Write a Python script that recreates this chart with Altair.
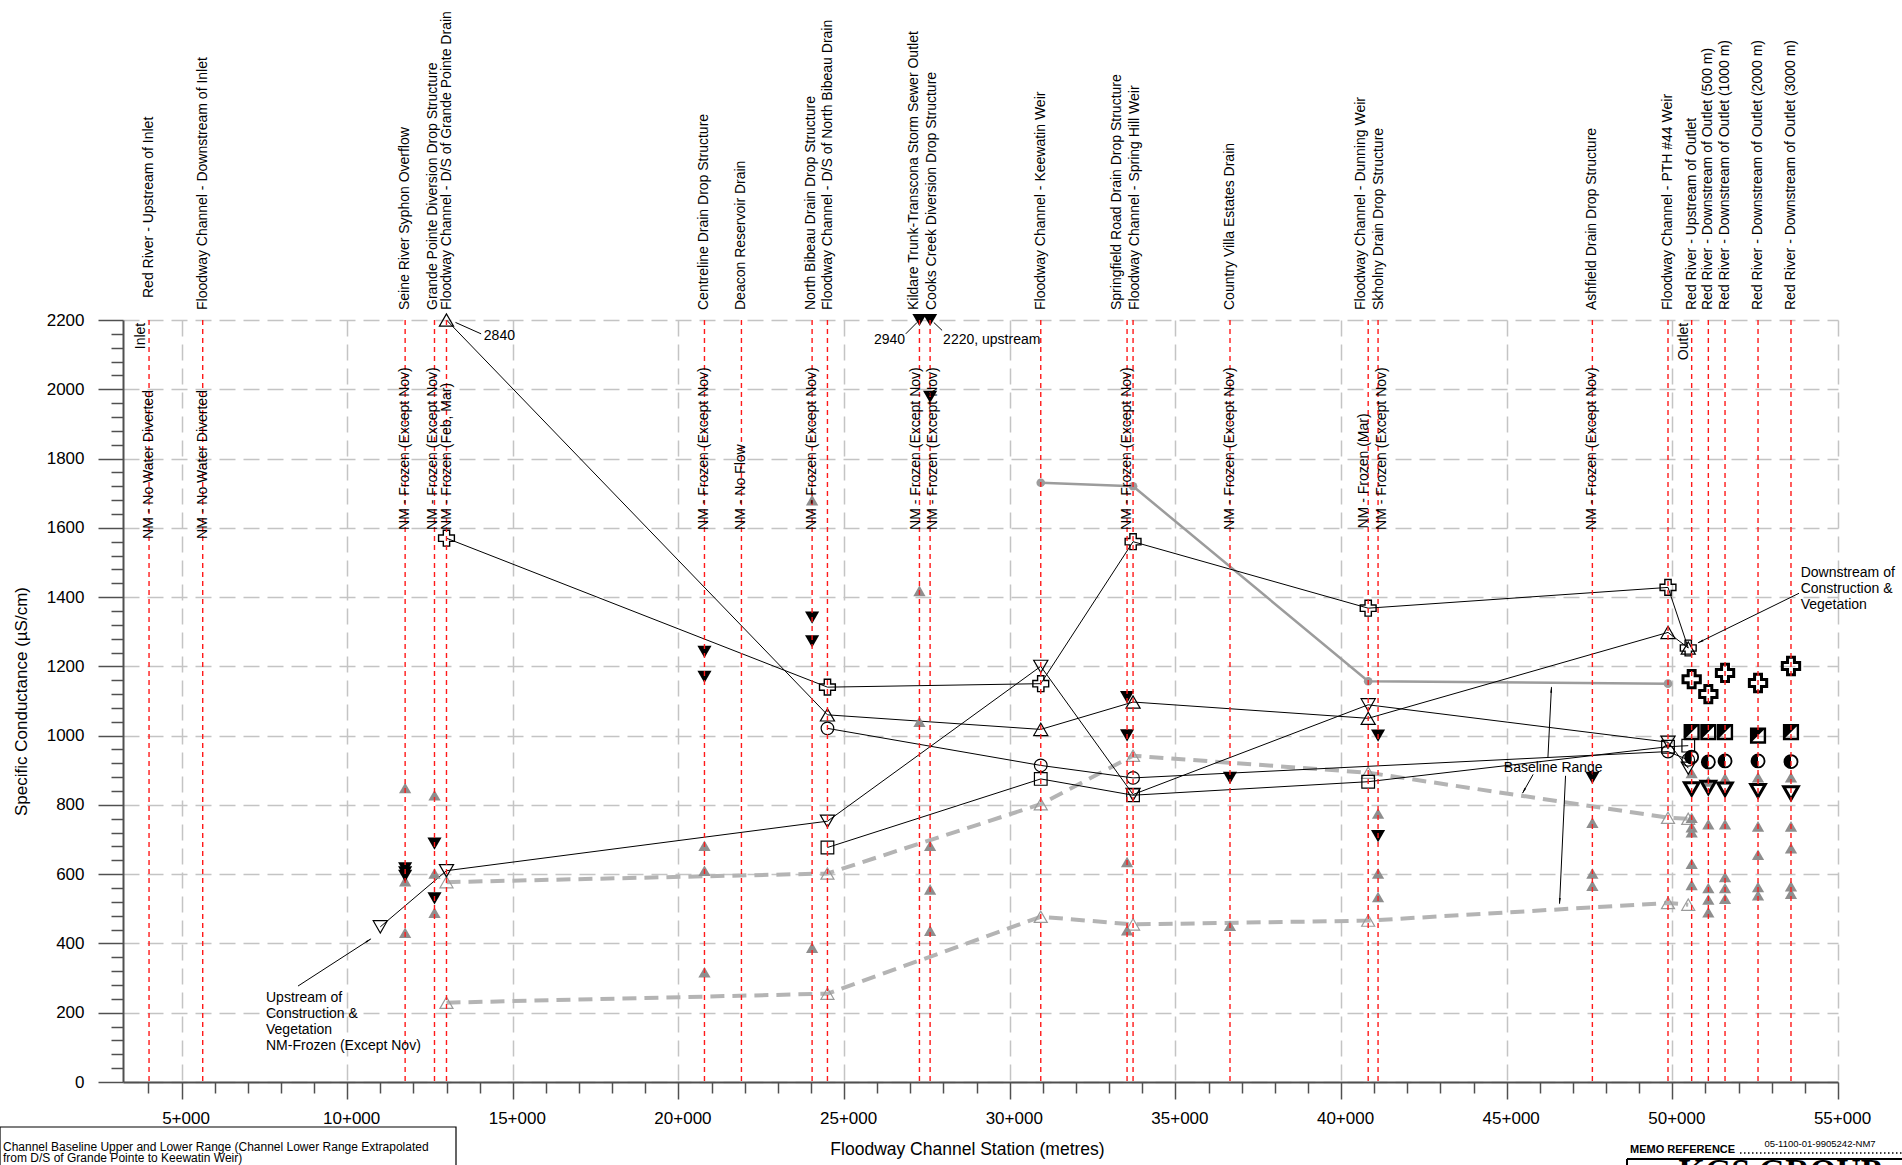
import math
import altair as alt
import pandas as pd

# ---------------------------------------------------------------- frame
W, H = 1715, 762
PAD = {"left": 123, "top": 320, "right": 64, "bottom": 83}
X_DOMAIN = [3234, 55000]
Y_DOMAIN = [0, 2200]
PX_PER_M = W / (X_DOMAIN[1] - X_DOMAIN[0])
PX_PER_US = H / (Y_DOMAIN[1] - Y_DOMAIN[0])
FONT = "Liberation Sans, Arial, Helvetica, sans-serif"
SERIF = "Liberation Serif, Times New Roman, serif"

# ---------------------------------------------------------------- stations
station_chainage = [4020, 5640, 11750, 12636, 12998, 20785, 21901, 24034, 24497,
                    27274, 27596, 30936, 33541, 33722, 36648, 40819, 41117, 47586,
                    49869, 50583, 51086, 51590, 52586, 53581]
station_names = [
    "Red River - Upstream of Inlet",
    "Floodway Channel -  Downstream of Inlet",
    "Seine River Syphon Overflow",
    "Grande Pointe Diversion Drop Structure",
    "Floodway Channel - D/S of Grande Pointe Drain",
    "Centreline Drain Drop Structure",
    "Deacon Reservoir Drain",
    "North Bibeau Drain Drop Structure",
    "Floodway Channel - D/S of North Bibeau Drain",
    "Kildare Trunk-Transcona Storm Sewer Outlet",
    "Cooks Creek Diversion Drop Structure",
    "Floodway Channel - Keewatin Weir",
    "Springfield Road Drain Drop Structure",
    "Floodway Channel - Spring Hill Weir",
    "Country Villa Estates Drain",
    "Floodway Channel - Dunning Weir",
    "Skholny Drain Drop Structure",
    "Ashfield Drain Drop Structure",
    "Floodway Channel - PTH  #44 Weir",
    "Red River - Upstream of Outlet",
    "Red River - Downstream of Outlet (500 m)",
    "Red River - Downstream of Outlet (1000 m)",
    "Red River - Downstream of Outlet (2000 m)",
    "Red River - Downstream of Outlet (3000 m)",
]
# sideways nudge (px) so that neighbouring names do not collide
station_label_shift = [0, 0, 0, -1, 1, 0, 0, -1, 1, -5, 2, 0, -10, 2, 0, -7, 1, 0,
                       0, 0, 0, 0, 0, 0]
# gap (px) between the plot top and the start of each name
station_label_gap = [22, 10, 10, 10, 10, 10, 10, 10, 10, 10, 10, 10, 10, 10, 10, 10,
                     10, 10, 10, 10, 10, 10, 10, 10]

# "not measured" notes written along the station lines
nm_chainage = [4020, 5640, 11750, 12636, 12998, 20785, 21901, 24034, 27274, 27596,
               33541, 36648, 40819, 41117, 47586]
nm_text = ["NM - No Water Diverted", "NM - No Water Diverted",
           "NM - Frozen (Except Nov)", "NM - Frozen (Except Nov)",
           "NM - Frozen (Feb, Mar)", "NM - Frozen (Except Nov)", "NM - No Flow",
           "NM - Frozen (Except Nov)", "NM - Frozen (Except Nov)",
           "NM - Frozen (Except Nov)", "NM - Frozen (Except Nov)",
           "NM - Frozen (Except Nov)", "NM - Frozen (Mar)",
           "NM - Frozen (Except Nov)", "NM - Frozen (Except Nov)"]
nm_start = [1568, 1568, 1594, 1594, 1594, 1594, 1594, 1594, 1594, 1594,
            1594, 1594, 1598, 1594, 1594]
nm_shift = [0, 0, 0, -1, 1, 0, 0, 0, -3, 3, 0, 0, -4, 4, 0]

# ---------------------------------------------------------------- channel series (µS/cm)
cross_ch = [12998, 24497, 30936, 33722, 40819, 49869, 50480]
cross_val = [1570, 1140, 1150, 1560, 1368, 1428, 1253]

triup_ch = [12998, 24497, 30936, 33722, 40819, 49869, 50480]
triup_val = [2840, 1060, 1018, 1097, 1050, 1298, 1253]

circle_ch = [24497, 30936, 33722, 49869, 50480]
circle_val = [1021, 914, 878, 954, 930]

square_ch = [24497, 30936, 33722, 40819, 49869, 50480]
square_val = [677, 875, 828, 867, 968, 971]

tridn_ch = [11000, 12998, 24497, 30936, 33722, 40819, 49869, 50480]
tridn_val = [448, 610, 753, 1200, 830, 1089, 981, 906]

gray_ch = [30936, 33722, 40819, 49869]
gray_val = [1730, 1720, 1157, 1150]

# channel baseline range
base_ch = [12998, 24497, 30936, 33722, 40819, 49869, 50480]
base_upper = [577, 602, 802, 942, 893, 763, 760]
base_lower = [229, 255, 477, 455, 466, 517, 512]

# ---------------------------------------------------------------- drains / tributaries
drain_ch = [11750, 11750, 11750, 12636, 12636, 20785, 20785, 24034, 24034,
            27274, 27596, 27596, 33541, 33541, 36648, 41117, 41117, 47586]
drain_val = [617, 605, 595, 688, 530, 1242, 1170, 1341, 1272,
             2940, 2220, 1978, 1111, 1001, 878, 1000, 710, 878]

other_ch = [11750, 11750, 11750, 12636, 12636, 12636, 20785, 20785, 20785,
            24034, 24034, 27274, 27274, 27596, 27596, 27596, 33541, 33541, 36648,
            41117, 41117, 41117, 47586, 47586, 47586,
            50583, 50583, 50583, 50583, 50583, 50583,
            51086, 51086, 51086, 51086, 51086,
            51590, 51590, 51590, 51590, 51590,
            52586, 52586, 52586, 52586, 52586,
            53581, 53581, 53581, 53581, 53581]
other_val = [849, 580, 431, 828, 602, 489, 682, 610, 317,
             1680, 388, 1418, 1040, 682, 556, 437, 635, 438, 451,
             775, 602, 534, 749, 602, 567,
             892, 763, 736, 721, 630, 569,
             868, 744, 560, 527, 490,
             877, 744, 592, 560, 529,
             880, 738, 656, 563, 539,
             880, 738, 675, 565, 544]

# ---------------------------------------------------------------- Red River near the outlet
rr_ch = [50583, 51086, 51590, 52586, 53581]
rr_cross = [1163, 1120, 1181, 1152, 1201]
rr_square = [1010, 1010, 1010, 1000, 1010]
rr_circle = [938, 924, 927, 927, 925]
rr_tridn = [846, 850, 845, 841, 834]

# ---------------------------------------------------------------- axes
major_x = "datum.value % 5000 === 0"
major_y = "datum.value % 200 === 0"
x_axis = alt.Axis(
    values=list(range(4000, 55001, 1000)),
    labelExpr=f"{major_x} ? (datum.value / 1000) + '+000' : ''",
    tickSize={"condition": {"test": major_x, "value": 17}, "value": 11},
    gridOpacity={"condition": {"test": major_x, "value": 1}, "value": 0},
    grid=True, gridColor="#c4c4c4", gridDash=[16, 8], gridWidth=1.5,
    domainColor="#505050", domainWidth=2, tickColor="#505050", tickWidth=1.5,
    labelFont=FONT, labelFontSize=17, labelColor="black", labelPadding=11,
    labelOffset=4, labelOverlap=False, labelFlush=False,
    title="Floodway Channel Station (metres)", titleFont=FONT, titleFontSize=17.5,
    titleFontWeight="normal", titleColor="black", titlePadding=14.5,
    titleX=844, titleAlign="center",
)
y_axis = alt.Axis(
    values=list(range(0, 2201, 40)), format="d",
    labelExpr=f"{major_y} ? datum.label : ''",
    tickSize={"condition": {"test": major_y, "value": 25}, "value": 12},
    gridOpacity={"condition": {"test": major_y, "value": 1}, "value": 0},
    grid=True, gridColor="#c4c4c4", gridDash=[16, 8], gridWidth=1.5,
    domainColor="#505050", domainWidth=2, tickColor="#505050", tickWidth=1.5,
    labelFont=FONT, labelFontSize=17, labelColor="black", labelPadding=14,
    labelOverlap=False,
    title="Specific Conductance (µS/cm)", titleFont=FONT, titleFontSize=17,
    titleFontWeight="normal", titleColor="black", titlePadding=16,
)

# ---------------------------------------------------------------- helpers
xs = alt.Scale(domain=X_DOMAIN, nice=False, zero=False)
ys = alt.Scale(domain=Y_DOMAIN, nice=False, zero=True, clamp=True)


def X(field="s"):
    return alt.X(f"{field}:Q", scale=xs, axis=x_axis)


def Y(field="v"):
    return alt.Y(f"{field}:Q", scale=ys, axis=y_axis)


def frame(ch, val):
    return pd.DataFrame({"s": ch, "v": val})


def enc(**extra):
    return dict(x=X(), y=Y(), **extra)


def points(ch, val, shape, size, filled, color, stroke_width=1.2):
    kw = dict(shape=shape, size=size, filled=filled, color=color,
              strokeWidth=stroke_width, opacity=1)
    return alt.Chart(frame(ch, val)).mark_point(**kw).encode(**enc())


def line(ch, val, color="black", width=1.0, dash=None):
    kw = dict(color=color, strokeWidth=width)
    if dash is not None:
        kw["strokeDash"] = dash
    return alt.Chart(frame(ch, val)).mark_line(**kw).encode(**enc())


def segment(x1, y1, x2, y2, width=1.0):
    d = pd.DataFrame({"s": [x1], "v": [y1], "s2": [x2], "v2": [y2]})
    return alt.Chart(d).mark_rule(color="black", strokeWidth=width).encode(
        **enc(x2="s2:Q", y2="v2:Q"))


def arrow(x1, y1, x2, y2):
    dx = (x2 - x1) * PX_PER_M
    dy = -(y2 - y1) * PX_PER_US
    length = math.hypot(dx, dy)
    ux, uy = dx / length, dy / length
    ang = math.degrees(math.atan2(ux, -uy)) % 360
    back = 3.5
    hx = x2 - ux * back / PX_PER_M
    hy = y2 + uy * back / PX_PER_US
    head = alt.Chart(frame([hx], [hy])).mark_point(
        shape="wedge", size=55, filled=True, color="black", angle=ang,
        opacity=1).encode(**enc())
    return segment(x1, y1, x2, y2) + head


def label(ch, val, text, size=14, align="left", baseline="middle", angle=0):
    d = pd.DataFrame({"s": ch, "v": val, "t": text})
    return alt.Chart(d).mark_text(
        align=align, baseline=baseline, angle=angle, fontSize=size, font=FONT,
        color="black").encode(**enc(text="t:N"))


def pixel_text(px, py, text, size, align="left", baseline="alphabetic",
               font=FONT, weight="normal"):
    d = pd.DataFrame({"t": [text]})
    return alt.Chart(d).mark_text(
        align=align, baseline=baseline, fontSize=size, font=font,
        fontWeight=weight, color="black").encode(
        x=alt.value(px), y=alt.value(py), text="t:N")


# ---------------------------------------------------------------- layers
BASE_GREY = "#b4b4b4"
layers = []

# baseline range
layers += [
    line(base_ch, base_upper, BASE_GREY, 4, [14, 8]),
    line(base_ch, base_lower, BASE_GREY, 4, [14, 8]),
    points(base_ch, base_upper, "triangle-up", 170, False, "#9a9a9a"),
    points(base_ch, base_lower, "triangle-up", 170, False, "#9a9a9a"),
]

# grey monitoring line
layers += [line(gray_ch, gray_val, "#9c9c9c", 2.5),
           points(gray_ch, gray_val, "circle", 75, True, "#9c9c9c")]

# black monitoring lines
for ch, val in [(cross_ch, cross_val), (triup_ch, triup_val),
                (circle_ch, circle_val), (square_ch, square_val),
                (tridn_ch, tridn_val)]:
    layers.append(line(ch, val))

# drains and other samples
layers += [
    points(other_ch, other_val, "triangle-up", 150, True, "#8e8e8e"),
    points(drain_ch, drain_val, "triangle-down", 200, True, "black"),
]

# monitoring markers
layers += [
    points(cross_ch, cross_val, "cross", 250, False, "black", 1.4),
    points(triup_ch, triup_val, "triangle-up", 200, False, "black"),
    points(circle_ch, circle_val, "circle", 160, False, "black"),
    points(square_ch, square_val, "square", 160, False, "black"),
    points(tridn_ch, tridn_val, "triangle-down", 200, False, "black"),
]

# Red River markers downstream of the outlet
HALF_CIRCLE = "M0,-1A1,1,0,0,0,0,1Z"
HALF_SQUARE = "M-1,-1L1,-1L-1,1Z"
layers += [
    points(rr_ch, rr_cross, "cross", 300, False, "black", 3),
    points(rr_ch, rr_square, "square", 190, False, "black", 2.4),
    points(rr_ch, rr_square, HALF_SQUARE, 190, True, "black"),
    points(rr_ch, rr_circle, "circle", 170, False, "black", 1.8),
    points(rr_ch, rr_circle, HALF_CIRCLE, 170, True, "black"),
    points(rr_ch, rr_tridn, "triangle-down", 210, False, "black", 3),
]

# station lines and names
st = pd.DataFrame({"s": station_chainage, "name": station_names})
st["ls"] = st["s"] + pd.Series(station_label_shift) / PX_PER_M
st["ly"] = [-g for g in station_label_gap]
layers.append(
    alt.Chart(st).mark_rule(color="#ff1a1a", strokeWidth=1.4, strokeDash=[5, 4]).encode(
        x=X(), y=alt.value(0), y2=alt.value(H)))
layers.append(
    alt.Chart(st).mark_text(angle=270, align="left", baseline="middle", fontSize=14,
                            font=FONT, color="black").encode(
        x=X("ls"), y=alt.Y("ly:Q", scale=None, axis=None), text="name:N"))

# not-measured notes
nm = pd.DataFrame({"s": nm_chainage, "v": nm_start, "t": nm_text})
nm["s"] = nm["s"] + pd.Series(nm_shift) / PX_PER_M
layers.append(
    alt.Chart(nm).mark_text(angle=270, align="left", baseline="middle", fontSize=14,
                            font=FONT, color="black").encode(**enc(text="t:N")))
layers.append(label([3768], [2192], ["Inlet"], 14, "right", "middle", 270))
layers.append(label([50352], [2192], ["Outlet"], 14, "right", "middle", 270))

# off-scale values
layers += [
    segment(13270, 2193, 14044, 2160), label([14125], [2153], ["2840"], 14),
    segment(27203, 2193, 26861, 2160), label([26840], [2143], ["2940"], 14, "right"),
    segment(27706, 2193, 27958, 2170), label([27988], [2143], ["2220, upstream"], 14),
]

# callouts
layers += [
    arrow(8516, 277, 10714, 413),
    label([7550] * 4, [242, 196, 150, 104],
          ["Upstream of", "Construction &", "Vegetation", "NM-Frozen (Except Nov)"], 14),
    arrow(53823, 1411, 50775, 1268),
    label([53873] * 3, [1470, 1424, 1378],
          ["Downstream of", "Construction &", "Vegetation"], 14),
    label([46404], [907], ["Baseline Range"], 14, "center"),
    arrow(46245, 938, 46351, 1140),
    arrow(45798, 888, 45479, 834),
    arrow(46776, 884, 46596, 515),
]

# notes and title block below the plot
note = pd.DataFrame({"t": [0]})
layers += [
    alt.Chart(note).mark_rect(fill="white", stroke="black", strokeWidth=1.2).encode(
        x=alt.value(-123), x2=alt.value(-123 + 456),
        y=alt.value(1127 - 320), y2=alt.value(1175 - 320)),
    pixel_text(-120, 1151 - 320, "Channel Baseline Upper and Lower Range (Channel Lower Range Extrapolated", 12),
    pixel_text(-120, 1162 - 320, "from D/S of Grande Pointe to Keewatin Weir)", 12),
    pixel_text(1630 - 123, 1153 - 320, "MEMO REFERENCE", 11, weight="bold"),
    alt.Chart(note).mark_rule(color="black", strokeWidth=1.5, strokeDash=[1.5, 2.5]).encode(
        x=alt.value(1740 - 123), x2=alt.value(1902 - 123), y=alt.value(1153 - 320)),
    pixel_text(1820 - 123, 1147 - 320, "05-1100-01-9905242-NM7", 9.5, align="center"),
    alt.Chart(note).mark_rule(color="black", strokeWidth=2).encode(
        x=alt.value(1627 - 123), x2=alt.value(1902 - 123), y=alt.value(1159 - 320)),
    alt.Chart(note).mark_rule(color="black", strokeWidth=2).encode(
        x=alt.value(1627 - 123), y=alt.value(1159 - 320), y2=alt.value(1175 - 320)),
    pixel_text(1780 - 123, 1155 - 320, "KGS  GROUP", 34, align="center", baseline="top",
               font=SERIF, weight="bold"),
]

chart = alt.layer(*layers).properties(
    width=W, height=H,
    autosize=alt.AutoSizeParams(type="none"),
    padding=PAD,
).configure_view(strokeWidth=0)

chart.save("out.html", embed_options={"renderer": "svg", "actions": False})
